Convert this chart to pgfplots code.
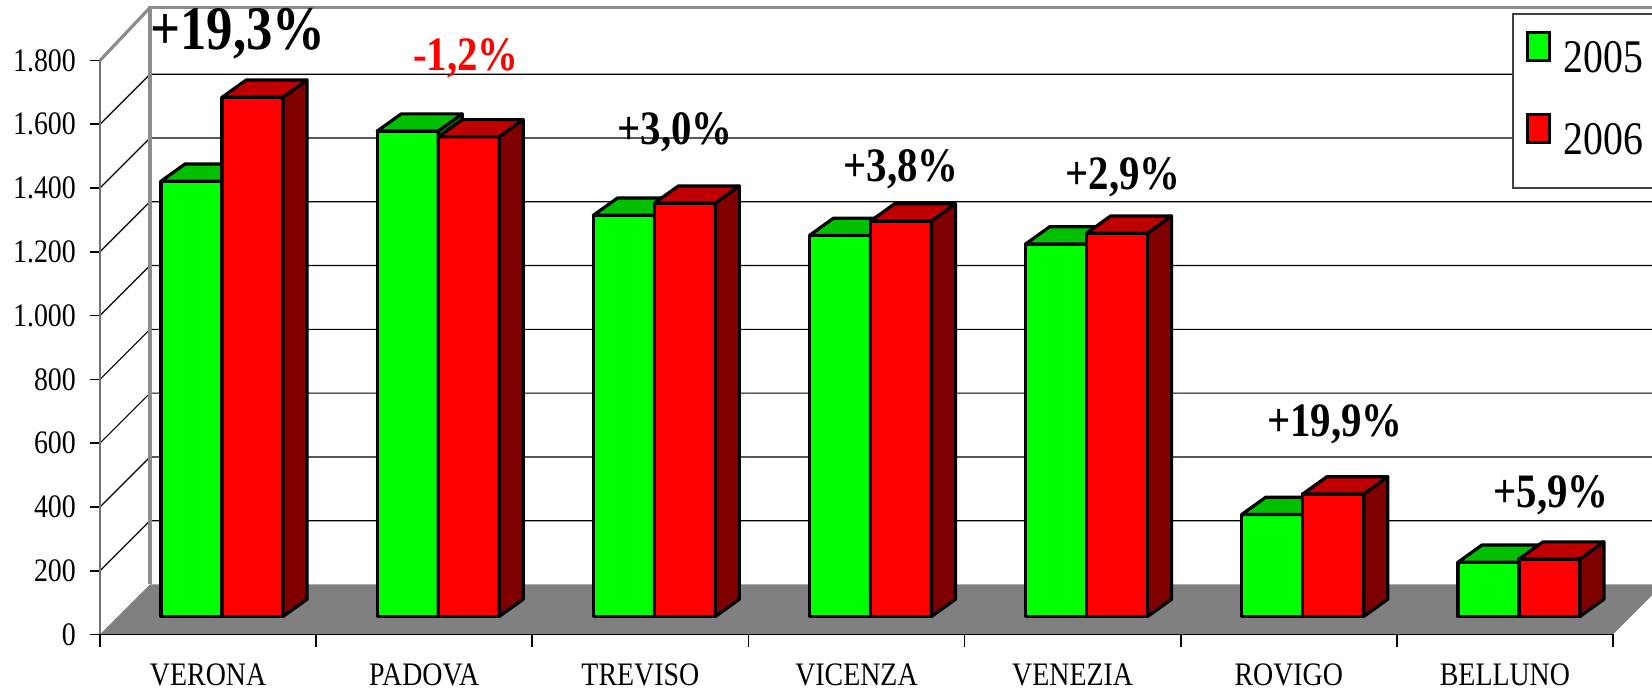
\documentclass[border=0pt]{standalone}
\usepackage{fontspec}
\setmainfont[FakeStretch=0.85]{Liberation Serif}
\usepackage{pgfplots}
\pgfplotsset{compat=1.18}
\usepackage{pgfplotstable}
\usetikzlibrary{calc}

\definecolor{grnfront}{RGB}{0,255,0}
\definecolor{grntop}{RGB}{0,192,0}
\definecolor{grnside}{RGB}{0,128,0}
\definecolor{rdfront}{RGB}{255,0,0}
\definecolor{rdtop}{RGB}{192,0,0}
\definecolor{rdside}{RGB}{128,0,0}
\definecolor{floorgray}{RGB}{128,128,128}
\definecolor{wallgray}{RGB}{140,140,140}

% values per province, 2005 and 2006
\pgfplotstableread{
idx y2005 y2006
0   1365  1628
1   1522  1504
2   1258  1296
3   1195  1240
4   1168  1202
5   320   384
6   170   180
}\veneto

\pgfdeclareplotmark{nix}{}
\tikzset{
  cub/.style={draw=black, line width=0.8pt, line join=round},
  pct/.style={font=\bfseries\fontsize{12}{14}\selectfont, anchor=base},
}

% a 3D column around each data point: #1 front, #2 top, #3 side colour, #4 column
\pgfplotsset{
  column3d/.style n args={4}{
    scatter, only marks, mark=nix,
    visualization depends on={\thisrow{#4} \as \val},
    scatter/@pre marker code/.code={%
      \pgfmathsetlengthmacro{\cbot}{4.5-\val*0.0797222}%
      \pgfmathsetlengthmacro{\cbotb}{8.8-\val*0.0797222}%
      \filldraw[cub, fill=#1] (-4.125pt,\cbot) rectangle (11.125pt,4.5pt);
      \filldraw[cub, fill=#2] (-4.125pt,4.5pt) -- (11.125pt,4.5pt) -- (17.125pt,8.8pt) -- (1.875pt,8.8pt) -- cycle;
      \filldraw[cub, fill=#3] (11.125pt,\cbot) -- (17.125pt,\cbotb) -- (17.125pt,8.8pt) -- (11.125pt,4.5pt) -- cycle;
    },
    scatter/@post marker code/.code={},
    legend image code/.code={\filldraw[fill=#1, draw=black, line width=0.7pt] (0pt,0pt) rectangle (5.5pt,7pt);},
  },
}

\begin{document}
\begin{tikzpicture}
\begin{axis}[
  x=54.0357pt, y=0.0797222pt,
  xmin=-0.5, xmax=6.5, ymin=0, ymax=1800,
  clip=false, axis on top,
  axis x line*=bottom, axis y line*=left,
  x axis line style={black, line width=0.45pt, -},
  y axis line style={black!55, line width=0.7pt, -},
  tick align=outside,
  xtick={0,...,6},
  xticklabels={VERONA,PADOVA,TREVISO,VICENZA,VENEZIA,ROVIGO,BELLUNO},
  major x tick style={draw=none},
  minor xtick={-0.5,0.5,...,6.5},
  minor tick length=3.25pt,
  ytick={0,200,...,1800},
  major tick length=2.5pt,
  tick style={black, line width=0.4pt},
  scaled y ticks=false,
  /pgf/number format/1000 sep={.},
  /pgf/number format/assume math mode=true,
  yticklabel style={font=\fontsize{8.2}{9}\selectfont},
  xticklabel style={font=\fontsize{8.2}{9}\selectfont, yshift=-1.4pt},
  legend entries={2005,2006},
  legend cell align=left,
  legend style={at={(0.9332,1.0819)}, anchor=north west, draw=black!75,
    line width=0.5pt, fill=white, inner xsep=3.25pt, inner ysep=1.2pt,
    row sep=0pt, column sep=3.25pt, nodes={inner xsep=0pt, inner ysep=5.6pt},
    font=\fontsize{11.7}{12}\selectfont},
]
\coordinate (bbsw) at (axis cs:-0.9627,-172.3);
\coordinate (bbne) at (axis cs:6.6806,1989.5);

% floor
\fill[floorgray] (axis cs:-0.5,0) -- (axis cs:6.5,0) -- ++(12.5pt,12.5pt)
  -- ($(axis cs:-0.5,0)+(12.5pt,12.5pt)$) -- cycle;
% gridlines on side and back wall
\pgfplotsinvokeforeach{200,400,...,1600}{
  \draw[black, line width=0.3pt] (axis cs:-0.5,#1) -- ++(12.5pt,12.5pt)
    -- ($(axis cs:6.5,#1)+(12.5pt,12.5pt)$);
}
\draw[wallgray, line width=0.8pt] ($(axis cs:-0.5,0)+(12.5pt,12.5pt)$)
  -- ($(axis cs:-0.5,1800)+(12.5pt,13.2pt)$) -- ($(axis cs:6.5,1800)+(12.5pt,13.2pt)$);
\draw[wallgray, line width=0.8pt] (axis cs:-0.5,1800) -- ++(12.5pt,13.2pt);

\addplot[column3d={grnfront}{grntop}{grnside}{y2005}]
  table[x expr=\thisrow{idx}-0.1411, y=y2005] {\veneto};
\addplot[column3d={rdfront}{rdtop}{rdside}{y2006}]
  table[x expr=\thisrow{idx}+0.1411, y=y2006] {\veneto};

\node[pct, font=\bfseries\fontsize{15.5}{17}\selectfont] at (axis cs:0.1385,1833) {+19,3\%};
\node[pct, text=rdfront] at (axis cs:1.1934,1770) {-1,2\%};
\node[pct] at (axis cs:2.160,1535) {+3,0\%};
\node[pct] at (axis cs:3.206,1419) {+3,8\%};
\node[pct] at (axis cs:4.233,1394) {+2,9\%};
\node[pct] at (axis cs:5.214,620) {+19,9\%};
\node[pct] at (axis cs:6.213,398) {+5,9\%};
\end{axis}
\pgfresetboundingbox
\path[use as bounding box] (bbsw) rectangle (bbne);
\end{tikzpicture}
\end{document}
